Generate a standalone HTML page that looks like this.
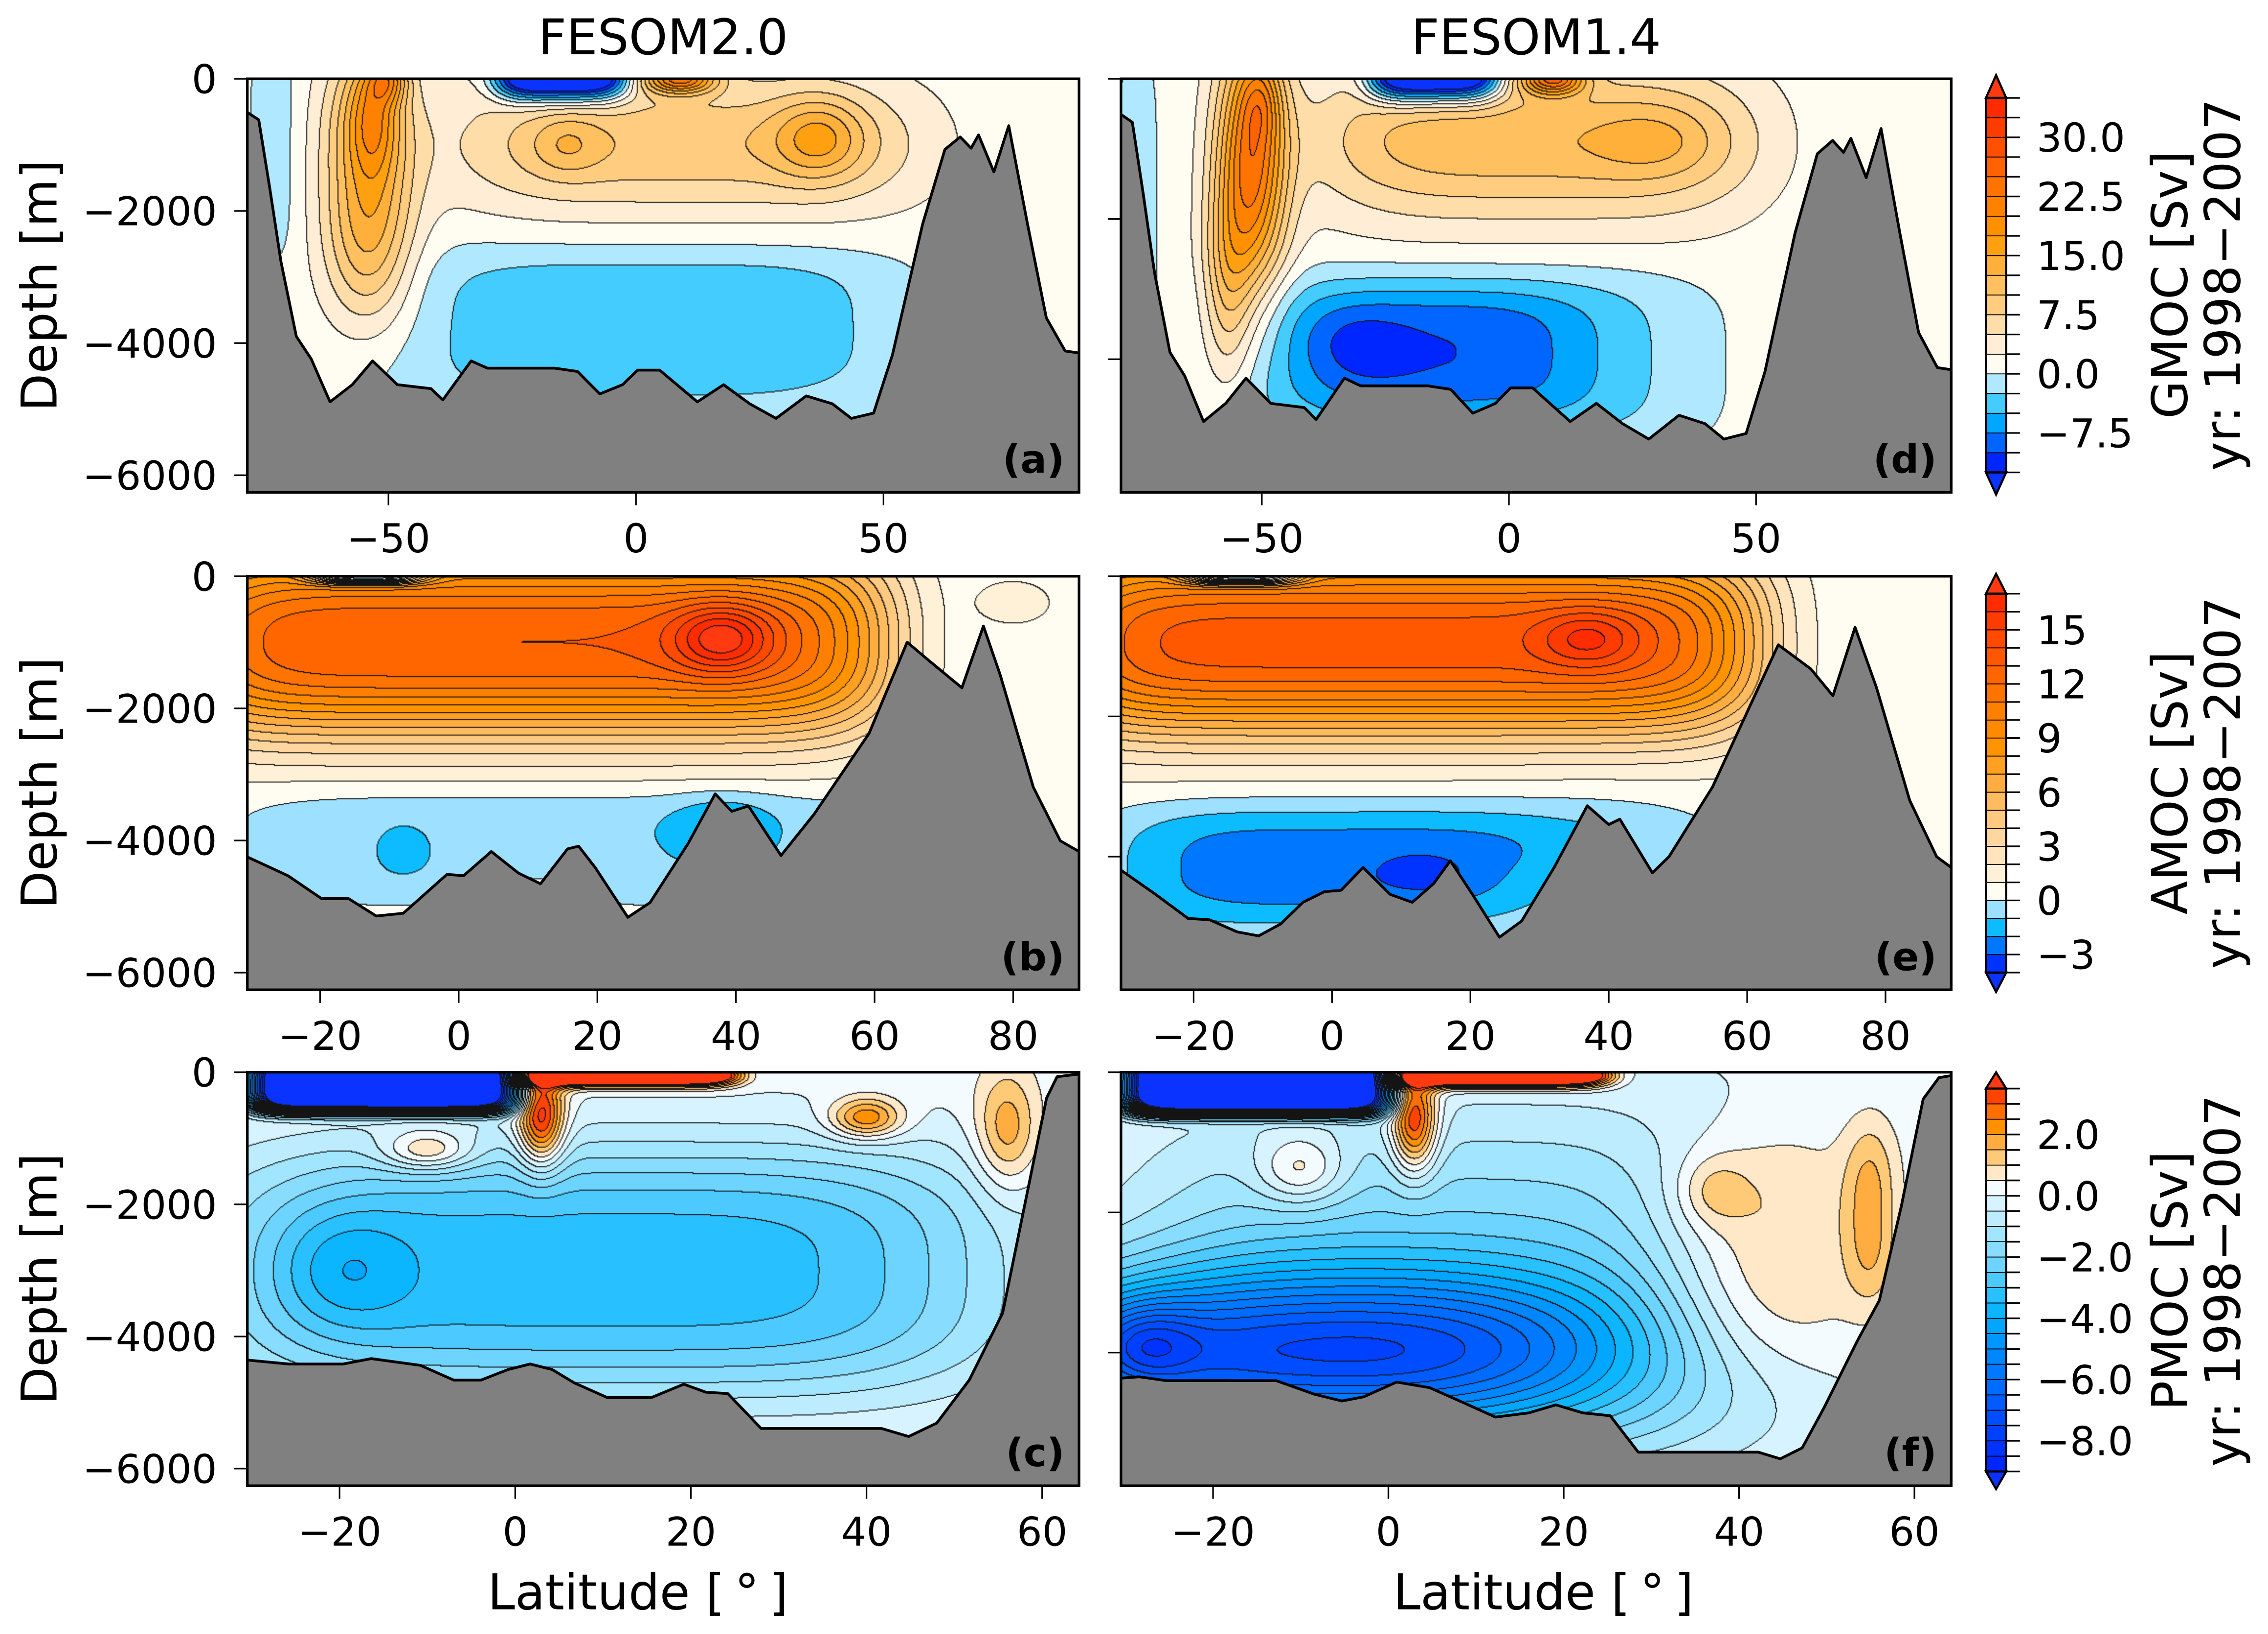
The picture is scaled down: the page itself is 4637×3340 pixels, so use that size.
<!DOCTYPE html>
<html><head><meta charset="utf-8"><style>
html,body{margin:0;padding:0;background:#fff;}
#root{position:relative;width:4637px;height:3340px;overflow:hidden;background:#fff;}
canvas{position:absolute;image-rendering:auto;}
svg{position:absolute;left:0;top:0;}
text{font-family:"DejaVu Sans","Liberation Sans",sans-serif;fill:#000;}
</style></head><body>
<div id="root">
<svg id="svg" width="4637" height="3340" viewBox="0 0 1568 1130" preserveAspectRatio="none"></svg>
</div>
<script>
// ---------- DATA ----------
// blobs: [lat, depth, amplitude(Sv), latWidth, depthWidth, latPower, depthPower]
const blobsA = [[-54,1600,14,9,2000,2,3],[-53,500,8,5,900,2,2],[-50,0,10,4,350,2,2],[10,1000,8.5,48,1050,4,2],[-14,1000,4,7,450,2,2],[37,900,8,9,600,2,2],[-15,0,-26,13,320,4,2],[9,0,20,7,220,2,2],[0,4000,-3,55,1700,4,4],[5,3700,-2.8,44,1000,4,4],[-73,1000,-2.5,5,1800,2,4]];
const blobsD = [[-52,1200,22,7,1800,2,2],[-57,3000,8,5,1400,2,2],[-50,300,6,4,600,2,2],[5,900,11,45,1100,4,2],[30,900,3,12,500,2,2],[-15,0,-26,13,320,4,2],[9,0,20,6,220,2,2],[-10,4000,-5,48,1300,4,4],[-15,3900,-6,30,900,3,3],[-32,3800,-2.5,10,500,2,2],[-75,1500,-2.5,4,2000,2,4]];
const blobsB = [[10,1000,12.5,52,1400,8,2.5],[38,950,5,7,500,2,2],[-13,0,-10,8,120,3,2],[15,4100,-1.3,48,900,6,4],[38,3800,-1.6,7,450,2,2],[-8,4150,-1.2,3,300,2,2],[10,4800,1.2,8,300,2,2],[80,400,1.5,5,300,2,2]];
const blobsE = [[10,950,13,52,1300,8,2.5],[37,900,3,7,400,2,2],[-13,0,-10,8,120,3,2],[0,4150,-3.1,32,900,4,3],[13,4250,-1.3,6,250,2,2],[40,3800,-1.4,16,700,2,2]];
const blobsC = [[-15,180,-14,15,420,8,4],[13,50,8,12,150,6,2],[3,700,4,2.5,700,2,2],[10,3000,-3.5,45,1900,4,3],[-20,3000,-1.3,8,900,2,2],[-10,1200,2,5,300,2,2],[40,700,2.6,4,300,2,2],[56,900,1.8,3.5,900,2,2]];
const blobsF = [[-15,180,-14,15,420,8,4],[13,50,8,12,150,6,2],[3,700,4,2.5,700,2,2],[-10,4000,-6,38,1200,3,2],[10,3000,-2,40,2500,4,3],[-28,3900,-2,6,600,2,2],[42,2600,2,12,1800,2,3],[37,1700,1.0,4,500,2,2],[55,2000,1.4,3,1300,2,3],[-10,1400,1.8,5,500,2,2]];
const baseA = 1.0, baseD = 1.0, baseB = 0.5, baseE = 0.5, baseC = 0.2, baseF = 0.2;

const gmocBathyLat = [-78.5,-76.2,-74,-71.7,-68.6,-65.6,-61.8,-57.3,-53.2,-48.2,-41.4,-39,-33.3,-30,-16.4,-11.8,-7.3,-2.7,0.3,4.8,12.4,17.7,23,28.3,34.4,39.7,43.5,48,51.8,57.9,62.4,65.5,67.7,69.2,72.3,75.3,79.1,82.9,86.7,89.5];
const gmocBathyDep = [508,620,1640,2770,3900,4240,4890,4630,4270,4630,4690,4860,4270,4380,4380,4430,4770,4630,4410,4410,4890,4630,4920,5140,4800,4920,5140,5060,4180,2200,1070,880,1050,850,1410,710,2200,3620,4120,4150];
const amocBathyLatB = [-30.5,-24.6,-19.8,-15.9,-11.9,-8,-1.7,0.7,4.7,8.6,11.8,15.7,17.3,19.7,24.4,27.6,33.1,37,39.4,41.8,46.5,51.3,59.2,64.7,67.9,72.6,75.7,78.1,82.9,86.8,89.5];
const amocBathyDepB = [4249,4535,4879,4879,5143,5102,4513,4533,4167,4492,4655,4127,4086,4411,5163,4940,4045,3294,3558,3477,4228,3598,2380,998,1282,1689,754,1485,3192,4005,4167];
const amocBathyLatE = [-30.5,-25.5,-20.8,-17.7,-13.7,-10.6,-7.4,-4.2,-1.1,1.3,4.5,8.4,11.6,14.7,17.1,20.3,24.2,27.4,32.1,36.9,40,41.6,46.3,48.7,55,64.5,69.2,72.4,75.6,78.7,83.5,87.4,89.5];
const amocBathyDepE = [4193,4538,4882,4901,5074,5131,4959,4652,4500,4480,4155,4538,4652,4384,4059,4538,5150,4920,4155,3274,3542,3466,4231,4002,3006,978,1322,1705,729,1590,3198,4002,4155];
const pmocBathyLatC = [-30.5,-25.8,-19.6,-16.4,-10.8,-7,-3.9,-0.8,1.7,4.2,6.7,10.5,15.5,19.2,21.7,24.2,28,41.7,44.8,48,51.7,55.5,58,60.5,61.7,64.2];
const pmocBathyDepC = [4356,4417,4417,4335,4437,4660,4660,4500,4417,4500,4700,4925,4925,4722,4843,4864,5392,5392,5514,5311,4660,3645,2020,393,68,28];
const pmocBathyLatF = [-30.5,-28.4,-25.3,-17.8,-12.8,-8.4,-5.3,-2.8,0.95,4.7,8.5,12.2,16,19.1,22.2,25.3,28.5,42.2,44.7,47.2,49.7,53.5,56,58.5,61,62.8,64.7];
const pmocBathyDepF = [4365,4345,4400,4400,4400,4595,4690,4630,4420,4500,4710,4920,4860,4745,4860,4900,5420,5420,5515,5360,4785,3830,3255,1915,383,77,38];

const gmocLevels = [-12.5,-10,-7.5,-5,-2.5,0,2.5,5,7.5,10,12.5,15,17.5,20,22.5,25,27.5,30,32.5,35];
const gmocColors = ['#0026ff','#0066ff','#00a6ff','#44ccff','#b0e8ff','#fffcf2','#ffeed5','#ffdda8','#ffcc80','#ffc060','#ffb03a','#ffa010','#ff9000','#ff8100','#ff7400','#ff6200','#ff4f00','#ff3c00','#ff2a00'];
const gmocExt = ['#0a33ff','#ff3a10'];
const amocLevels = [-4,-3,-2,-1,0,1,2,3,4,5,6,7,8,9,10,11,12,13,14,15,16,17];
const amocColors = ['#0033ff','#0077ff','#0cbcff','#9ee0ff','#fffcf2','#fff0d8','#ffe4bd','#ffd69e','#ffc97f','#ffbb60','#ffad40','#ffa020','#ff9400','#ff8a00','#ff8000','#ff7300','#ff6600','#ff5800','#ff4a00','#ff3c00','#ff2c00'];
const amocExt = ['#0a33ff','#ff3a10'];
const pmocLevels = [-9,-8.5,-8,-7.5,-7,-6.5,-6,-5.5,-5,-4.5,-4,-3.5,-3,-2.5,-2,-1.5,-1,-0.5,0,0.5,1,1.5,2,2.5,3,3.5];
const pmocColors = ['#0026ff','#0033ff','#0040ff','#004dff','#005cff','#006bff','#0078ff','#0086ff','#0096ff','#00a6ff','#0cb6ff','#28c0ff','#4ccaff','#6cd4ff','#88ddff','#a2e5ff','#bdecff','#d6f3ff','#f4fbff','#ffe8c8','#ffca78','#ffad40','#ff9000','#ff6e00','#ff4400'];
const pmocExt = ['#0a33ff','#ff3a10'];

const gmocTickVals = [-7.5,0,7.5,15,22.5,30];
const gmocTickText = ['\u22127.5','0.0','7.5','15.0','22.5','30.0'];
const amocTickVals = [-3,0,3,6,9,12,15];
const amocTickText = ['\u22123','0','3','6','9','12','15'];
const pmocTickVals = [-8,-6,-4,-2,0,2];
const pmocTickText = ['\u22128.0','\u22126.0','\u22124.0','\u22122.0','0.0','2.0'];

const xTicksRow1 = [-50,0,50];
const xTicksRow2 = [-20,0,20,40,60,80];
const xTicksRow3 = [-20,0,20,40,60];
const yTicks = [0,-2000,-4000,-6000];
const yTickText = ['0','\u22122000','\u22124000','\u22126000'];

// ---------- LAYOUT ----------
const SX = 4637/1568, SY = 3340/1130;
const NS = 'http://www.w3.org/2000/svg';
const svg = document.getElementById('svg');
const root = document.getElementById('root');
function el(tag, attrs, parent){const e=document.createElementNS(NS,tag);for(const k in attrs)e.setAttribute(k,attrs[k]);(parent||svg).appendChild(e);return e;}

const COLX = [[171,746],[775,1349]];
const ROWY = [[54.5,340.5],[398.5,684.5],[741.5,1027.5]];
const cmaps = {
  gmoc:{L:gmocLevels,C:gmocColors,E:gmocExt},
  amoc:{L:amocLevels,C:amocColors,E:amocExt},
  pmoc:{L:pmocLevels,C:pmocColors,E:pmocExt}
};
const panels = [
 {name:'a',row:0,col:0,lat:[-78.5,89.5],dmax:6260,blobs:blobsA,base:baseA,bl:gmocBathyLat,bd:gmocBathyDep,cm:'gmoc',xt:xTicksRow1},
 {name:'d',row:0,col:1,lat:[-78.5,89.5],dmax:5900,blobs:blobsD,base:baseD,bl:gmocBathyLat,bd:gmocBathyDep,cm:'gmoc',xt:xTicksRow1},
 {name:'b',row:1,col:0,lat:[-30.5,89.5],dmax:6260,blobs:blobsB,base:baseB,bl:amocBathyLatB,bd:amocBathyDepB,cm:'amoc',xt:xTicksRow2},
 {name:'e',row:1,col:1,lat:[-30.5,89.5],dmax:5900,blobs:blobsE,base:baseE,bl:amocBathyLatE,bd:amocBathyDepE,cm:'amoc',xt:xTicksRow2},
 {name:'c',row:2,col:0,lat:[-30.5,64.2],dmax:6260,blobs:blobsC,base:baseC,bl:pmocBathyLatC,bd:pmocBathyDepC,cm:'pmoc',xt:xTicksRow3},
 {name:'f',row:2,col:1,lat:[-30.5,64.2],dmax:5900,blobs:blobsF,base:baseF,bl:pmocBathyLatF,bd:pmocBathyDepF,cm:'pmoc',xt:xTicksRow3}
];
function hex(c){return [parseInt(c.substr(1,2),16),parseInt(c.substr(3,2),16),parseInt(c.substr(5,2),16)];}

panels.forEach(p=>{
  const [x0,x1]=COLX[p.col], [y0,y1]=ROWY[p.row];
  const xs = v => x0 + (v-p.lat[0])/(p.lat[1]-p.lat[0])*(x1-x0);
  const ys = d => y0 + d/p.dmax*(y1-y0);
  const cv = document.createElement('canvas');
  
  
  const W = Math.round((x1-x0)*SX/2), H = Math.round((y1-y0)*SY/2);
  cv.width=W; cv.height=H;
  cv.style.left=(x0*SX)+'px'; cv.style.top=(y0*SY)+'px';
  cv.style.width=((x1-x0)*SX)+'px'; cv.style.height=((y1-y0)*SY)+'px';
  root.insertBefore(cv, svg);
  const ctx=cv.getContext('2d'); const img=ctx.createImageData(W,H);
  const cm=cmaps[p.cm]; const L=cm.L, n=cm.C.length;
  const cols=cm.C.map(hex), under=hex(cm.E[0]), over=hex(cm.E[1]);
  const idx=new Int16Array(W*H);
  for(let j=0;j<H;j++){const d=(j+0.5)/H*p.dmax;
    for(let i=0;i<W;i++){const la=p.lat[0]+(i+0.5)/W*(p.lat[1]-p.lat[0]);
      let v=p.base;
      for(const b of p.blobs){const a=Math.pow(Math.abs((la-b[0])/b[3]),b[5])+Math.pow(Math.abs((d-b[1])/b[4]),b[6]); if(a<30) v+=b[2]*Math.exp(-a);}
      let k; if(v<L[0])k=-1; else if(v>=L[n])k=n; else {k=0; while(k<n-1 && v>=L[k+1])k++;}
      idx[j*W+i]=k;}}
  for(let j=0;j<H;j++)for(let i=0;i<W;i++){const k=idx[j*W+i];
    let c = k<0?under:(k>=n?over:cols[k]);
    const kr = i<W-1?idx[j*W+i+1]:k, kd=j<H-1?idx[(j+1)*W+i]:k;
    const o=(j*W+i)*4;
    if(kr!==k||kd!==k){img.data[o]=20;img.data[o+1]=20;img.data[o+2]=20;}
    else{img.data[o]=c[0];img.data[o+1]=c[1];img.data[o+2]=c[2];}
    img.data[o+3]=255;}
  ctx.putImageData(img,0,0);

  const g=el('g',{});
  let pts=[[xs(p.bl[0]),y1+1]];
  for(let i=0;i<p.bl.length;i++) pts.push([xs(p.bl[i]),ys(p.bd[i])]);
  pts.push([xs(p.bl[p.bl.length-1]),y1+1]);
  const clipId='clip'+p.name;
  const cp=el('clipPath',{id:clipId},g); el('rect',{x:x0,y:y0,width:x1-x0,height:y1-y0},cp);
  const poly=el('polygon',{points:pts.map(q=>q[0].toFixed(2)+','+q[1].toFixed(2)).join(' '),fill:'#808080',stroke:'none','clip-path':'url(#'+clipId+')'},g);
  
  
  const line=el('polyline',{points:pts.slice(1,-1).map(q=>q[0].toFixed(2)+','+q[1].toFixed(2)).join(' '),fill:'none',stroke:'#000','stroke-width':1.9,'stroke-linejoin':'round','clip-path':'url(#'+clipId+')'},g);
  
  
  const fr=el('rect',{x:x0,y:y0,width:x1-x0,height:y1-y0,fill:'none',stroke:'#000','stroke-width':1.8},g);
  
  
  p.xt.forEach(t=>{const x=xs(t);
    el('line',{x1:x,x2:x,y1:y1,y2:y1+9,stroke:'#000','stroke-width':1.1},g);
    const tx=el('text',{x:x,y:y1+41.5,'text-anchor':'middle','font-size':27.5},g);
    tx.textContent=(t<0?'\u2212'+(-t):''+t);
    
    
  });
  yTicks.forEach((t,i)=>{const d=-t; if(d>p.dmax)return; const y=ys(d);
    el('line',{x1:x0-9,x2:x0,y1:y,y2:y,stroke:'#000','stroke-width':1.1},g);
    if(p.col===0){const tx=el('text',{x:x0-21,y:y+10,'text-anchor':'end','font-size':27.5},g);
      tx.textContent=yTickText[i];
      
      }
  });
  const pl=el('text',{x:x1-10,y:y1-13.5,'text-anchor':'end','font-size':27,'font-weight':'bold'},g);
  pl.textContent='('+p.name+')';
  
  
  if(p.col===0){const yl=el('text',{x:0,y:0,'text-anchor':'middle','font-size':34,transform:'translate(39,'+((y0+y1)/2)+') rotate(-90)'},g);
    yl.textContent='Depth [m]';
    
    }
});

[['FESOM2.0',458.5],['FESOM1.4',1062]].forEach(t=>{const e=el('text',{x:t[1],y:37.5,'text-anchor':'middle','font-size':34});e.textContent=t[0];
  
  });
[441,1067].forEach(x=>{const e=el('text',{x:x,y:1113,'text-anchor':'middle','font-size':34});e.textContent='Latitude [\u2009\u00b0\u2009]';
  
  });

const cbs=[
 {cm:'gmoc',top:67.7,bot:326.7,tt:52,tb:342,vals:gmocTickVals,txt:gmocTickText,lab:'GMOC [Sv]'},
 {cm:'amoc',top:410.6,bot:672.6,tt:396.8,tb:686,vals:amocTickVals,txt:amocTickText,lab:'AMOC [Sv]'},
 {cm:'pmoc',top:752.8,bot:1017.6,tt:741.6,tb:1029.8,vals:pmocTickVals,txt:pmocTickText,lab:'PMOC [Sv]'}
];
cbs.forEach(c=>{
  const cm=cmaps[c.cm], L=cm.L, n=cm.C.length, X0=1373, X1=1387;
  const g=el('g',{});
  const yv=v=>c.bot-(v-L[0])/(L[n]-L[0])*(c.bot-c.top);
  for(let k=0;k<n;k++){const r=el('rect',{x:X0,y:yv(L[k+1]),width:X1-X0,height:yv(L[k])-yv(L[k+1]),fill:cm.C[k],stroke:'#000','stroke-width':0.6},g);
    
    }
  el('polygon',{points:`${X0},${c.top} ${(X0+X1)/2},${c.tt} ${X1},${c.top}`,fill:cm.E[1],stroke:'#000','stroke-width':1.5},g);
  el('polygon',{points:`${X0},${c.bot} ${(X0+X1)/2},${c.tb} ${X1},${c.bot}`,fill:cm.E[0],stroke:'#000','stroke-width':1.5},g);
  el('rect',{x:X0,y:c.top,width:X1-X0,height:c.bot-c.top,fill:'none',stroke:'#000','stroke-width':1.5},g);
  L.forEach(v=>el('line',{x1:X1,x2:X1+9.5,y1:yv(v),y2:yv(v),stroke:'#000','stroke-width':1.1},g));
  c.vals.forEach((v,i)=>{const t=el('text',{x:1408,y:yv(v)+10,'font-size':27.5},g);t.textContent=c.txt[i];
    
    });
  const cy=(c.tt+c.tb)/2;
  const l1=el('text',{x:0,y:0,'text-anchor':'middle','font-size':34,transform:`translate(1512,${cy}) rotate(-90)`},g);l1.textContent=c.lab;
  
  
  const l2=el('text',{x:0,y:0,'text-anchor':'middle','font-size':34,transform:`translate(1548.5,${cy}) rotate(-90)`},g);l2.textContent='yr: 1998\u22122007';
  
  
});
</script>
</body></html>
